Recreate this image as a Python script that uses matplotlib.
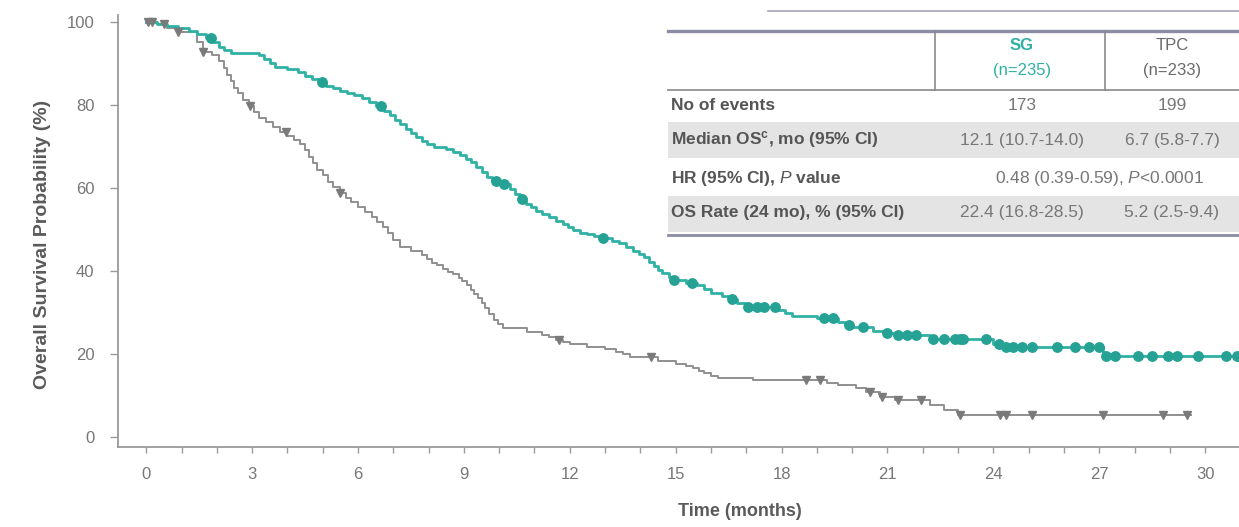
import numpy as np
import matplotlib
matplotlib.use("Agg")
import matplotlib.pyplot as plt
from matplotlib.lines import Line2D
from matplotlib.patches import Rectangle

plt.rcParams["font.family"] = ["Liberation Sans", "DejaVu Sans"]
plt.rcParams["mathtext.fontset"] = "custom"
plt.rcParams["mathtext.rm"] = "Liberation Sans"
plt.rcParams["mathtext.it"] = "Liberation Sans:italic"
plt.rcParams["mathtext.bf"] = "Liberation Sans:bold"

# ---- Kaplan-Meier step data (time in months, survival in %) ----
sg_time = [0, 0.3, 0.6, 0.9, 1.2, 1.45, 1.7, 1.9, 2.05, 2.2, 2.4, 3.2, 3.35,
           3.5, 3.65, 4.0, 4.3, 4.5, 4.7, 4.9, 5.1, 5.3, 5.5, 5.7, 5.9, 6.1,
           6.3, 6.5, 6.75, 6.9, 7.05, 7.2, 7.35, 7.5, 7.65, 7.8, 7.95, 8.15,
           8.5, 8.7, 8.9, 9.05, 9.2, 9.35, 9.5, 9.65, 9.8, 10.1, 10.3, 10.45,
           10.6, 10.75, 10.9, 11.05, 11.2, 11.4, 11.6, 11.8, 11.95, 12.1, 12.3,
           12.5, 12.7, 12.9, 13.2, 13.4, 13.6, 13.8, 13.95, 14.1, 14.25, 14.4,
           14.5, 14.6, 14.8, 14.95, 15.3, 15.6, 15.8, 16.0, 16.3, 16.5, 16.75,
           17.0, 17.9, 18.1, 18.3, 19.0, 19.6, 19.8, 20.0, 20.6, 21.0, 21.2,
           22.2, 24.0, 24.3, 27.1, 31.0]
sg_surv = [100, 99.5, 99.0, 98.4, 97.8, 97.0, 96.0, 95.0, 94.0, 93.2, 92.4,
           92.0, 91.0, 90.0, 89.0, 88.6, 87.8, 87.0, 86.2, 85.5, 84.6, 84.0,
           83.4, 82.8, 82.3, 81.5, 80.7, 79.8, 78.6, 77.5, 76.4, 75.3, 74.2,
           73.2, 72.2, 71.3, 70.5, 69.8, 69.3, 68.6, 67.8, 67.0, 66.2, 65.0,
           63.8, 62.6, 61.6, 60.8, 59.6, 58.5, 57.3, 56.2, 55.3, 54.5, 53.7,
           52.9, 52.1, 51.3, 50.5, 49.8, 49.2, 48.8, 48.3, 47.8, 47.2, 46.7,
           45.8, 44.8, 44.0, 43.3, 42.2, 41.2, 40.3, 39.5, 38.6, 37.8, 37.2,
           36.5, 35.6, 34.7, 34.0, 33.3, 32.2, 31.3, 30.5, 29.8, 29.1, 28.6,
           27.8, 27.0, 26.5, 25.6, 25.0, 24.5, 23.6, 22.4, 21.7, 19.5, 19.5]
sg_censor = [1.84, 4.99, 6.66, 9.9, 10.15, 10.65, 12.95, 14.95, 15.45, 16.6,
             17.05, 17.3, 17.5, 17.8, 19.2, 19.45, 19.9, 20.3, 21.0, 21.3,
             21.55, 21.8, 22.3, 22.6, 22.9, 23.05, 23.15, 23.8, 24.15, 24.35,
             24.55, 24.8, 25.1, 25.8, 26.3, 26.7, 27.0, 27.2, 27.45, 28.1,
             28.5, 28.95, 29.2, 29.8, 30.6, 30.9]

tpc_time = [0, 0.3, 0.6, 0.9, 1.45, 1.6, 1.85, 2.05, 2.2, 2.3, 2.4, 2.5, 2.6,
            2.75, 2.9, 3.05, 3.2, 3.4, 3.6, 3.8, 4.0, 4.2, 4.35, 4.5, 4.6,
            4.72, 4.85, 5.0, 5.15, 5.3, 5.5, 5.65, 5.8, 6.0, 6.2, 6.4, 6.55,
            6.7, 6.85, 7.0, 7.2, 7.5, 7.8, 7.95, 8.1, 8.25, 8.4, 8.55, 8.7,
            8.85, 8.95, 9.1, 9.2, 9.3, 9.4, 9.5, 9.6, 9.72, 9.85, 9.97, 10.1,
            10.8, 11.2, 11.4, 11.6, 11.8, 12.0, 12.5, 13.0, 13.3, 13.5, 13.7,
            14.5, 15.0, 15.3, 15.5, 15.65, 15.8, 16.0, 16.2, 17.2, 19.3, 19.6,
            20.1, 20.4, 20.8, 21.2, 22.2, 22.6, 23.0, 29.6]
tpc_surv = [100, 99.5, 98.5, 97.6, 95.0, 92.8, 92.0, 90.6, 88.8, 87.2, 85.6,
            84.0, 82.8, 81.2, 79.8, 78.2, 76.8, 75.8, 74.6, 73.4, 72.5, 71.5,
            70.6, 69.0, 67.5, 66.0, 64.3, 63.0, 61.5, 60.2, 58.8, 57.6, 56.5,
            55.4, 54.2, 53.0, 51.8, 50.5, 49.0, 47.5, 45.7, 44.8, 43.8, 42.9,
            42.0, 41.3, 40.5, 39.8, 39.2, 38.2, 37.5, 36.5, 35.5, 34.5, 33.5,
            32.2, 31.0, 29.6, 28.2, 27.2, 26.2, 25.3, 24.6, 24.0, 23.4, 22.9,
            22.4, 21.7, 21.2, 20.5, 19.9, 19.3, 18.3, 17.6, 17.1, 16.6, 16.0,
            15.4, 14.8, 14.2, 13.7, 13.0, 12.5, 11.8, 10.8, 9.6, 8.9, 7.7, 6.5,
            5.2, 5.2]
tpc_censor = [0.05, 0.15, 0.5, 0.9, 1.6, 2.95, 3.95, 5.5, 11.7, 14.3, 18.7,
              19.1, 20.5, 20.85, 21.3, 21.95, 23.05, 24.2, 24.35, 25.1, 27.1,
              28.8, 29.5]

x_ticks = [0, 3, 6, 9, 12, 15, 18, 21, 24, 27, 30]
y_ticks = [0, 20, 40, 60, 80, 100]

# ---- summary table contents ----
arm_names = ["SG", "TPC"]
arm_n = ["(n=235)", "(n=233)"]
row_labels = ["No of events",
              r"Median OS$^{\mathbf{c}}$, mo (95% CI)",
              r"HR (95% CI), $\mathit{P}$ value",
              "OS Rate (24 mo), % (95% CI)"]
sg_values = ["173", "12.1 (10.7-14.0)", None, "22.4 (16.8-28.5)"]
tpc_values = ["199", "6.7 (5.8-7.7)", None, "5.2 (2.5-9.4)"]
hr_text = r"0.48 (0.39-0.59), $\mathit{P}$<0.0001"

TEAL = "#2fb1a4"
TEAL_DOT = "#26a295"
GREY = "#8f8f8f"
GREY_MK = "#7a7a7a"
AXIS = "#9a9a9a"
TXT = "#777777"

W, H = 1239, 527
fig = plt.figure(figsize=(W / 100, H / 100), dpi=100)
ax = fig.add_axes([118 / W, 1 - 447 / H, 1 - 118 / W, (447 - 15) / H])


def step_at(times, surv, t):
    idx = np.searchsorted(np.asarray(times), t, side="right") - 1
    return np.asarray(surv)[idx]


ax.plot(tpc_time, tpc_surv, drawstyle="steps-post", color=GREY, lw=1.4,
        zorder=2)
ax.plot(sg_time, sg_surv, drawstyle="steps-post", color=TEAL, lw=2.0,
        zorder=3)
ax.plot(tpc_censor, step_at(tpc_time, tpc_surv, tpc_censor), ls="none",
        marker="v", ms=6, color=GREY_MK, zorder=4)
ax.plot(sg_censor, step_at(sg_time, sg_surv, sg_censor), ls="none",
        marker="o", ms=6.8, color=TEAL_DOT, zorder=5)

ax.set_xlim(-0.8, 30.96)
ax.set_ylim(-2.4, 101.6)
ax.set_xticks(x_ticks)
ax.set_xticks(np.arange(0, 31, 1), minor=True)
ax.set_yticks(y_ticks)
for side in ("top", "right"):
    ax.spines[side].set_visible(False)
for side in ("left", "bottom"):
    ax.spines[side].set_color(AXIS)
    ax.spines[side].set_linewidth(1.3)
ax.tick_params(axis="both", which="both", color=AXIS, width=1.0,
               labelcolor=TXT, labelsize=12, direction="out")
ax.tick_params(axis="x", which="major", length=4.5, pad=10)
ax.tick_params(axis="x", which="minor", length=4.5)
ax.tick_params(axis="y", which="major", length=6, pad=11)

ax.set_ylabel("Overall Survival Probability (%)", fontsize=14,
              fontweight="bold", color="#5a5a5a")
ax.set_xlabel("Time (months)", fontsize=13, fontweight="bold",
              color="#5a5a5a")
ax.xaxis.set_label_coords((740 - 118) / (W - 118), (447 - 503) / (447 - 15))
ax.yaxis.set_label_coords((51 - 118) / (W - 118), (447 - 244) / (447 - 15))


# ---- summary table drawn in figure pixel space ----
def fx(px):
    return px / W


def fy(py):
    return 1 - py / H


def hline(x0, x1, y, color, lw):
    fig.add_artist(Line2D([fx(x0), fx(x1)], [fy(y), fy(y)], color=color,
                          lw=lw, transform=fig.transFigure, zorder=10))


def vline(x, y0, y1, color, lw):
    fig.add_artist(Line2D([fx(x), fx(x)], [fy(y0), fy(y1)], color=color,
                          lw=lw, transform=fig.transFigure, zorder=10))


def band(y0, y1, color):
    fig.add_artist(Rectangle((fx(668), fy(y1)), fx(1239) - fx(668),
                             fy(y0) - fy(y1), transform=fig.transFigure,
                             facecolor=color, edgecolor="none", zorder=9))


band(31, 235, "white")
band(122, 158, "#e4e4e4")
band(196, 232, "#e4e4e4")
hline(768, 1239, 11, "#a4a4b8", 1.2)
hline(668, 1239, 31, "#8c8ca4", 2.4)
hline(668, 1239, 90, "#9a9a9a", 1.4)
hline(668, 1239, 235, "#8c8ca4", 2.0)
vline(935, 31, 90, "#8a8a8a", 1.2)
vline(1105, 31, 90, "#8a8a8a", 1.2)

col_x = [1022, 1172]
head_colors = [TEAL, "#6a6a6a"]
for cx, name, n, c in zip(col_x, arm_names, arm_n, head_colors):
    fig.text(fx(cx), fy(46), name, ha="center", va="center", fontsize=12,
             fontweight="bold" if name == "SG" else "normal", color=c,
             zorder=11)
    fig.text(fx(cx), fy(70), n, ha="center", va="center", fontsize=12,
             color=c, zorder=11)

row_y = [105, 140, 178, 213]
for y, lab, v1, v2 in zip(row_y, row_labels, sg_values, tpc_values):
    fig.text(fx(671), fy(y), lab, ha="left", va="center", fontsize=12.5,
             fontweight="bold", color="#555555", zorder=11)
    if v1 is None:
        fig.text(fx(1100), fy(y), hr_text, ha="center", va="center",
                 fontsize=12.5, color=TXT, zorder=11)
    else:
        fig.text(fx(col_x[0]), fy(y), v1, ha="center", va="center",
                 fontsize=12.5, color=TXT, zorder=11)
        fig.text(fx(col_x[1]), fy(y), v2, ha="center", va="center",
                 fontsize=12.5, color=TXT, zorder=11)

fig.savefig("out.png", dpi=100)
